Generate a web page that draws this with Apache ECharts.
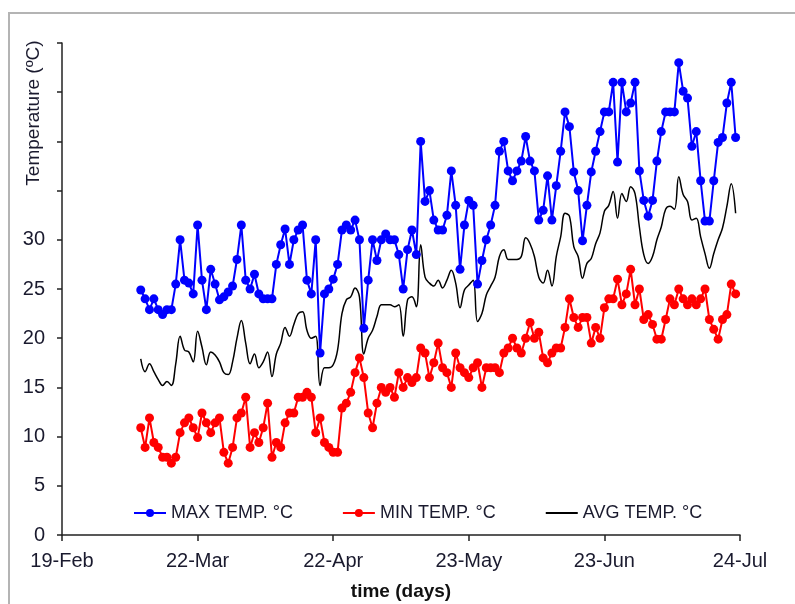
<!DOCTYPE html>
<html>
<head>
<meta charset="utf-8">
<script src="https://cdn.jsdelivr.net/npm/echarts@6/dist/echarts.min.js"></script>
<style>html,body{margin:0;padding:0;background:#fff}#c{width:795px;height:604px}</style>
</head>
<body>
<div id="c"></div>
<script>
// Day offset (days after 19-Feb) of the first reading
const firstDay = 18;
const tickLabels = ['19-Feb', '22-Mar', '22-Apr', '23-May', '23-Jun', '24-Jul'];
const seriesNames = ['MAX TEMP. °C', 'MIN TEMP. °C', 'AVG TEMP. °C'];
const maxTemp = [
  24.9, 24.0, 22.9, 24.0, 22.9, 22.4, 22.9, 22.9, 25.5, 30.0,
  25.9, 25.6, 24.5, 31.5, 25.9, 22.9, 27.0, 25.5, 23.9, 24.2,
  24.7, 25.3, 28.0, 31.5, 25.9, 25.0, 26.5, 24.5, 24.0, 24.0,
  24.0, 27.5, 29.5, 31.1, 27.5, 30.0, 31.0, 31.5, 25.9, 24.5,
  30.0, 18.5, 24.5, 25.0, 26.0, 27.5, 31.0, 31.5, 31.0, 32.0,
  30.0, 21.0, 25.9, 30.0, 27.9, 30.0, 30.6, 30.0, 30.0, 28.5,
  25.0, 29.0, 31.0, 28.5, 40.0, 33.9, 35.0, 32.0, 31.0, 31.0,
  32.5, 37.0, 33.5, 27.0, 31.5, 34.0, 33.5, 25.5, 27.9, 30.0,
  31.5, 33.5, 39.0, 40.0, 37.0, 36.0, 37.0, 38.0, 40.5, 38.0,
  37.0, 32.0, 33.0, 36.5, 32.0, 35.5, 39.0, 43.0, 41.5, 36.9,
  35.0, 29.9, 33.5, 36.9, 39.0, 41.0, 43.0, 43.0, 46.0, 37.9,
  46.0, 43.0, 43.9, 46.0, 37.0, 34.0, 32.4, 34.0, 38.0, 41.0,
  43.0, 43.0, 43.0, 48.0, 45.1, 44.4, 39.5, 41.0, 36.0, 31.9,
  31.9, 36.0, 39.9, 40.4, 43.9, 46.0, 40.4
];
const minTemp = [
  10.9, 8.9, 11.9, 9.4, 8.9, 7.9, 7.9, 7.3, 7.9, 10.4,
  11.4, 11.9, 10.9, 9.9, 12.4, 11.4, 10.4, 11.4, 11.9, 8.4,
  7.3, 8.9, 11.9, 12.4, 14.0, 8.9, 10.4, 9.4, 10.9, 13.4,
  7.9, 9.4, 8.9, 11.4, 12.4, 12.4, 14.0, 14.0, 14.5, 14.0,
  10.4, 11.9, 9.4, 8.9, 8.4, 8.4, 12.9, 13.4, 14.5, 16.5,
  18.0, 16.0, 12.4, 10.9, 13.4, 15.0, 14.5, 15.0, 14.0, 16.5,
  15.0, 16.0, 15.5, 16.0, 19.0, 18.5, 16.0, 17.5, 19.5, 17.0,
  16.5, 15.0, 18.5, 17.0, 16.5, 16.0, 17.0, 17.5, 15.0, 17.0,
  17.0, 17.0, 16.5, 18.5, 19.0, 20.0, 19.0, 18.5, 20.0, 21.6,
  20.0, 20.6, 18.0, 17.5, 18.5, 19.0, 19.0, 21.1, 24.0, 22.1,
  21.1, 22.1, 22.1, 19.5, 21.1, 20.0, 23.1, 24.0, 24.0, 26.0,
  23.4, 24.5, 27.0, 23.4, 25.0, 21.9, 22.4, 21.4, 19.9, 19.9,
  21.9, 24.0, 23.4, 25.0, 24.0, 23.4, 24.0, 23.4, 24.0, 25.0,
  21.9, 20.9, 19.9, 21.9, 22.4, 25.5, 24.5
];
const avgTemp = [
  17.9, 16.6, 17.4, 16.6, 15.8, 15.2, 15.6, 15.2, 17.4, 20.2,
  18.8, 18.6, 17.6, 20.7, 19.1, 17.3, 18.6, 18.3, 17.6, 16.5,
  16.3, 17.6, 20.0, 21.8, 19.5, 17.4, 18.4, 17.0, 17.6, 18.6,
  16.1, 18.4, 19.5, 21.1, 20.2, 21.4, 22.5, 22.7, 20.8, 20.0,
  20.2, 15.2, 17.0, 17.0, 17.3, 18.8, 22.5, 23.9, 24.2, 25.1,
  24.2, 18.4, 20.0, 20.8, 22.2, 23.4, 23.4, 23.4, 23.2, 23.4,
  20.2, 23.9, 24.2, 23.2, 29.5, 26.2, 25.6, 25.3, 25.9, 25.1,
  25.9, 26.9, 25.6, 23.1, 24.9, 25.4, 25.9, 21.7, 22.5, 24.4,
  25.3, 26.2, 28.3, 29.0, 28.0, 28.0, 28.0, 28.3, 30.2, 29.6,
  28.3, 26.2, 25.6, 26.9, 25.3, 28.3, 30.3, 32.7, 32.4, 29.3,
  28.3, 26.1, 27.6, 28.1, 29.6, 30.7, 32.9, 33.5, 34.9, 32.2,
  34.7, 33.9, 35.4, 34.7, 31.3, 28.5, 27.6, 28.3, 30.0, 31.3,
  33.1, 33.4, 33.1, 36.4, 34.6, 33.9, 32.0, 32.2, 30.3, 28.6,
  27.1, 28.6, 30.0, 31.2, 33.4, 35.7, 32.7
];

const toXY = arr => arr.map((v, i) => [firstDay + i, v]);
const chart = echarts.init(document.getElementById('c'), null, {renderer: 'canvas'});
const font = 'Liberation Sans, Arial, sans-serif';
chart.setOption({
  animation: false,
  backgroundColor: '#fff',
  textStyle: {fontFamily: font},
  graphic: [
    {type: 'rect', shape: {x: 9, y: 13, width: 820, height: 620}, style: {fill: 'none', stroke: '#b4b4b4', lineWidth: 2}, silent: true},
    {type: 'text', x: 34, y: 113, rotation: Math.PI / 2,
     style: {text: 'Temperature (ºC)', font: '19px ' + font, fill: '#1a1a2e', textAlign: 'center', textVerticalAlign: 'middle'}}
  ],
  grid: {left: 62, right: 55, top: 43, bottom: 69, containLabel: false, outerBoundsMode: 'none'},
  legend: {
    left: 128, top: 499, itemWidth: 32, itemHeight: 10, itemGap: 49,
    textStyle: {fontSize: 18, color: '#1a1a2e', fontFamily: font},
    data: [
      {name: seriesNames[0]},
      {name: seriesNames[1]},
      {name: seriesNames[2], itemStyle: {opacity: 0}}
    ]
  },
  xAxis: {
    type: 'value', min: 0, max: 155, interval: 31,
    name: 'time (days)', nameLocation: 'middle', nameGap: 47,
    nameTextStyle: {fontSize: 19, fontWeight: 'bold', color: '#111', fontFamily: font},
    axisLine: {lineStyle: {color: '#222', width: 1.5}},
    axisTick: {show: true, length: 6, lineStyle: {color: '#222', width: 1.5}},
    axisLabel: {fontSize: 20, color: '#1a1a2e', margin: 16, formatter: v => tickLabels[Math.round(v / 31)] || ''},
    splitLine: {show: false}
  },
  yAxis: {
    type: 'value', min: 0, max: 50, interval: 5,
    axisLine: {show: true, lineStyle: {color: '#222', width: 1.5}},
    axisTick: {show: true, length: 5, lineStyle: {color: '#222', width: 1.5}},
    axisLabel: {fontSize: 20, color: '#1a1a2e', margin: 17, formatter: v => (v <= 30 ? String(v) : '')},
    splitLine: {show: false}
  },
  series: [
    {name: seriesNames[0], type: 'line', data: toXY(maxTemp), symbol: 'circle', symbolSize: 9, showAllSymbol: true,
     itemStyle: {color: '#0000ff'}, lineStyle: {color: '#0000ff', width: 2}, z: 3},
    {name: seriesNames[1], type: 'line', data: toXY(minTemp), symbol: 'circle', symbolSize: 9, showAllSymbol: true,
     itemStyle: {color: '#ff0000'}, lineStyle: {color: '#ff0000', width: 2}, z: 3},
    {name: seriesNames[2], type: 'line', data: toXY(avgTemp), symbol: 'none', smooth: 0.4,
     itemStyle: {color: '#000'}, lineStyle: {color: '#000', width: 1.5}, z: 2}
  ]
});
</script>
</body>
</html>
